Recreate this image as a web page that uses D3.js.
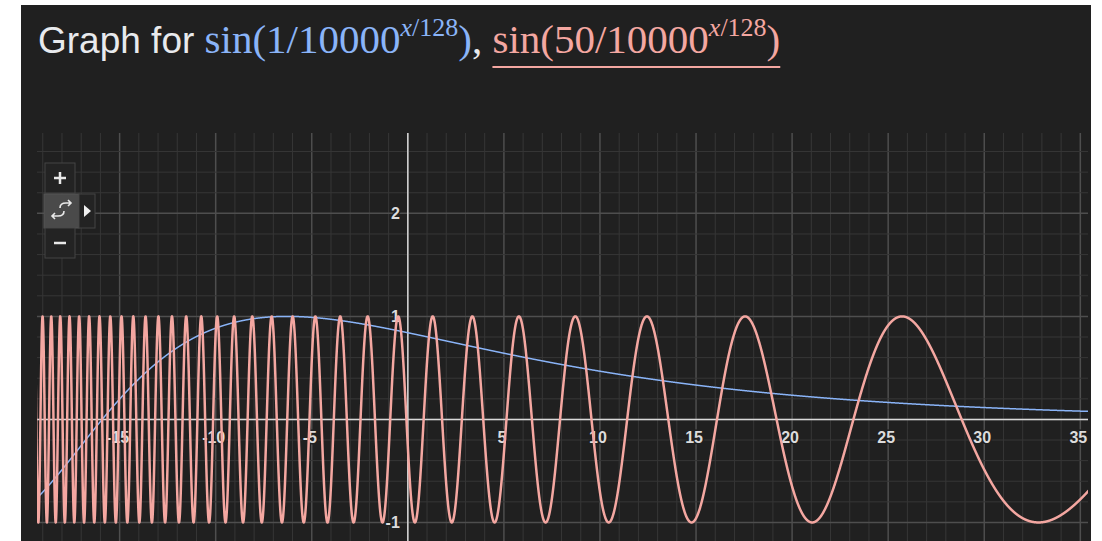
<!DOCTYPE html>
<html>
<head>
<meta charset="utf-8">
<script src="https://cdn.jsdelivr.net/npm/d3@7"></script>
<style>
  body { margin:0; background:#fff; }
  svg { display:block; }
</style>
</head>
<body>
<div id="chart"></div>
<script>
var W = 1102, H = 541;

// data =======================================================
// the two curves: sin(numerator / base^(x/divisor))
var seriesNames = ["sin(1/10000^(x/128))", "sin(50/10000^(x/128))"];
var numerators  = [1, 50];
var base = 10000, divisor = 128;
var xDomain = [-19.3, 35.4];
var yDomain = [-1.18, 2.78];
var xTickLabels = [-15, -10, -5, 5, 10, 15, 20, 25, 30, 35];
var yTickLabels = [2, 1, -1];
// ============================================================

var svg = d3.select('#chart')
            .append('svg')
            .attr('width', W)
            .attr('height', H);

// dark panel
svg.append('rect')
   .attr('x', 21).attr('y', 5)
   .attr('width', 1070).attr('height', H - 5)
   .attr('fill', '#202020');

var plot = {left: 37, right: 1088, top: 133, bottom: 541};

var x = d3.scaleLinear().domain(xDomain).range([plot.left, plot.right]);
var y = d3.scaleLinear().domain(yDomain).range([plot.bottom, plot.top]);

svg.append('clipPath').attr('id', 'clip')
   .append('rect')
   .attr('x', plot.left).attr('y', plot.top)
   .attr('width', plot.right - plot.left)
   .attr('height', plot.bottom - plot.top);

var g = svg.append('g').attr('clip-path', 'url(#clip)');

// grid ========================================================
var xMinor = d3.range(Math.ceil(xDomain[0]), xDomain[1], 1);
var yMinor = d3.range(Math.ceil(yDomain[0] * 5), yDomain[1] * 5, 1).map(function(v){ return v / 5; });

g.selectAll('.vgrid')
 .data(xMinor)
 .enter().append('line')
 .attr('x1', function(d){ return x(d); })
 .attr('x2', function(d){ return x(d); })
 .attr('y1', plot.top).attr('y2', plot.bottom)
 .attr('stroke', function(d){ return d % 5 == 0 ? '#4e4e4e' : '#363636'; })
 .attr('stroke-width', function(d){ return d % 5 == 0 ? 1.5 : 1; });

g.selectAll('.hgrid')
 .data(yMinor)
 .enter().append('line')
 .attr('y1', function(d){ return y(d); })
 .attr('y2', function(d){ return y(d); })
 .attr('x1', plot.left).attr('x2', plot.right)
 .attr('stroke', function(d){ return Math.abs(d - Math.round(d)) < 1e-9 ? '#4e4e4e' : '#363636'; })
 .attr('stroke-width', function(d){ return Math.abs(d - Math.round(d)) < 1e-9 ? 1.5 : 1; });

// axes
g.append('line')
 .attr('x1', plot.left).attr('x2', plot.right)
 .attr('y1', y(0)).attr('y2', y(0))
 .attr('stroke', '#d8d8d8').attr('stroke-width', 1.5);
g.append('line')
 .attr('x1', x(0)).attr('x2', x(0))
 .attr('y1', plot.top).attr('y2', plot.bottom)
 .attr('stroke', '#d8d8d8').attr('stroke-width', 1.5);

// tick labels (under the curves)
var labelStyle = function(sel){
  sel.attr('font-family', 'Arial, "Liberation Sans", sans-serif')
     .attr('font-size', 16)
     .attr('font-weight', 'bold')
     .attr('fill', '#dcdcdc')
     .attr('stroke', '#202020')
     .attr('stroke-width', 3)
     .attr('paint-order', 'stroke');
};

g.selectAll('.xlab')
 .data(xTickLabels)
 .enter().append('text')
 .attr('x', function(d){ return x(d) - 2; })
 .attr('y', y(0) + 24)
 .attr('text-anchor', 'middle')
 .text(function(d){ return d; })
 .call(labelStyle);

g.selectAll('.ylab')
 .data(yTickLabels)
 .enter().append('text')
 .attr('x', x(0) - 8)
 .attr('y', function(d){ return y(d) + 6; })
 .attr('text-anchor', 'end')
 .text(function(d){ return d; })
 .call(labelStyle);

// curves ======================================================
var colors = ['#8ab4f8', '#f4a7a1'];
var widths = [1.5, 2.5];
var xs = d3.range(xDomain[0] - 0.1, xDomain[1] + 0.1, 0.004);

var line = d3.line()
  .x(function(d){ return x(d[0]); })
  .y(function(d){ return y(d[1]); });

numerators.forEach(function(n, i){
  var pts = xs.map(function(v){ return [v, Math.sin(n / Math.pow(base, v / divisor))]; });
  g.append('path')
   .datum(pts)
   .attr('fill', 'none')
   .attr('stroke', colors[i])
   .attr('stroke-width', widths[i])
   .attr('stroke-linejoin', 'round')
   .attr('d', line)
   .append('title').text(seriesNames[i]);
});

// zoom widget ===================================================
var wg = svg.append('g');
wg.append('rect').attr('x', 45).attr('y', 163).attr('width', 30).attr('height', 30)
  .attr('fill', '#232323').attr('stroke', '#444');
wg.append('rect').attr('x', 44).attr('y', 194).attr('width', 35).attr('height', 34)
  .attr('fill', '#4a4a4a').attr('stroke', '#555');
wg.append('rect').attr('x', 79).attr('y', 194).attr('width', 16).attr('height', 34)
  .attr('fill', '#232323').attr('stroke', '#444');
wg.append('rect').attr('x', 45).attr('y', 228).attr('width', 30).attr('height', 30)
  .attr('fill', '#232323').attr('stroke', '#444');
wg.append('path').attr('d', 'M54,178 H66 M60,172 V184')
  .attr('stroke', '#e8e8e8').attr('stroke-width', 2.5);
wg.append('path').attr('d', 'M54,243 H66')
  .attr('stroke', '#e8e8e8').attr('stroke-width', 2.5);
// arrows
wg.append('path')
  .attr('d', 'M60,208 Q60,203 66,203 L71,203 M68,200 L71,203 L68,206 M64,211 Q64,216 58,216 L52,216 M55,213 L52,216 L55,219')
  .attr('fill', 'none').attr('stroke', '#e8e8e8').attr('stroke-width', 1.6);
wg.append('path').attr('d', 'M84,205 L91,211 L84,217 Z').attr('fill', '#f0f0f0');

// title =========================================================
var title = svg.append('text')
  .attr('x', 38).attr('y', 53)
  .attr('fill', '#e8eaed')
  .style('white-space', 'pre');

title.append('tspan')
  .attr('font-family', 'Arial, "Liberation Sans", sans-serif')
  .attr('font-size', 37)
  .text('Graph for ');

var serif = '"Times New Roman", "Liberation Serif", serif';
function mathPart(num, color){
  title.append('tspan').attr('font-family', serif).attr('font-size', 41)
       .attr('fill', color).text('sin(' + num + '/' + base);
  var sup = title.append('tspan').attr('font-family', serif).attr('font-size', 26)
       .attr('fill', color).attr('dy', -17);
  sup.append('tspan').attr('font-style', 'italic').text('x');
  sup.append('tspan').text('/' + divisor);
  title.append('tspan').attr('font-family', serif).attr('font-size', 41)
       .attr('fill', color).attr('dy', 17).text(')');
}
mathPart(numerators[0], colors[0]);
title.append('tspan').attr('font-family', serif).attr('font-size', 41).text(', ');
var startIdx = title.text().length;
mathPart(numerators[1], colors[1]);
var endIdx = title.text().length - 1;
var node = title.node();
var ux1 = node.getStartPositionOfChar(startIdx).x;
var ux2 = node.getEndPositionOfChar(endIdx).x;

svg.append('line')
   .attr('x1', ux1).attr('x2', ux2)
   .attr('y1', 67).attr('y2', 67)
   .attr('stroke', colors[1]).attr('stroke-width', 2);
</script>
</body>
</html>
